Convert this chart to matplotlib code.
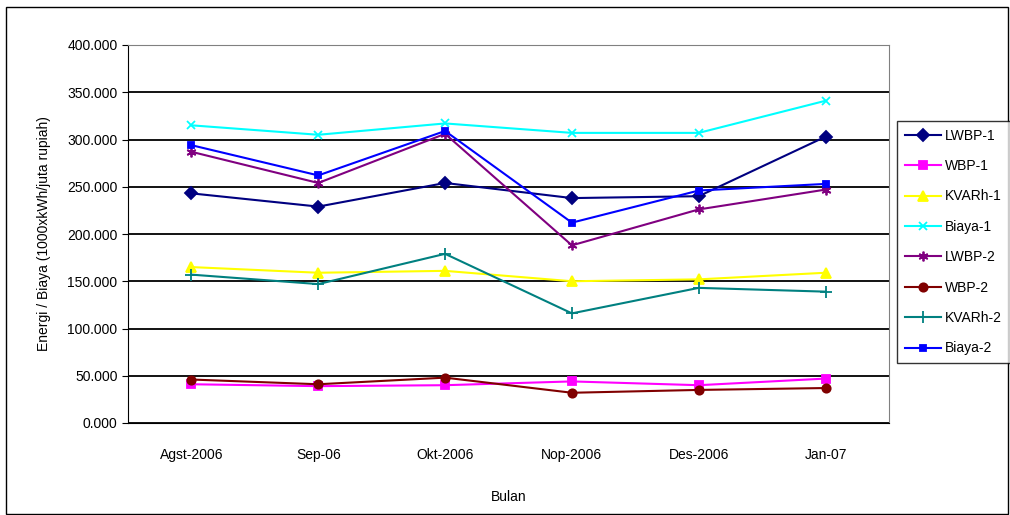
import matplotlib
matplotlib.use("Agg")
import matplotlib.pyplot as plt
from matplotlib.patches import Rectangle
from matplotlib.ticker import FuncFormatter

plt.rcParams["font.family"] = ["Liberation Sans", "DejaVu Sans"]

months = ["Agst-2006", "Sep-06", "Okt-2006", "Nop-2006", "Des-2006", "Jan-07"]

lwbp_1 = [243, 229, 254, 238, 240, 303]
wbp_1 = [41, 39, 40, 44, 40, 47]
kvarh_1 = [165, 159, 161, 150, 152, 159]
biaya_1 = [315, 305, 317, 307, 307, 341]
lwbp_2 = [287, 254, 306, 188, 226, 247]
wbp_2 = [46, 41, 48, 32, 35, 37]
kvarh_2 = [157, 147, 179, 116, 143, 139]
biaya_2 = [294, 262, 309, 212, 246, 253]

series = [
    ("LWBP-1", lwbp_1, "#000080", "D", 6),
    ("WBP-1", wbp_1, "#FF00FF", "s", 6),
    ("KVARh-1", kvarh_1, "#FFFF00", "^", 7),
    ("Biaya-1", biaya_1, "#00FFFF", "x", 6),
    ("LWBP-2", lwbp_2, "#800080", (6, 2, 0), 7),
    ("WBP-2", wbp_2, "#800000", "o", 6),
    ("KVARh-2", kvarh_2, "#008080", "+", 8),
    ("Biaya-2", biaya_2, "#0000FF", "s", 4),
]

fig = plt.figure(figsize=(10.10, 5.15), dpi=100)
ax = fig.add_axes([128 / 1010, 1 - 423 / 515, (889 - 128) / 1010, (423 - 45) / 515])

x = list(range(len(months)))
for name, vals, color, marker, ms in series:
    ax.plot(x, vals, color=color, marker=marker, markersize=ms, lw=1.5,
            markeredgewidth=1.3, label=name, clip_on=False, zorder=3)

ax.set_xlim(-0.5, len(months) - 0.5)
ax.set_ylim(0, 400)
ax.set_yticks(range(0, 401, 50))
ax.yaxis.set_major_formatter(FuncFormatter(lambda v, p: f"{v:.3f}"))
ax.set_xticks(x)
ax.set_xticklabels(months)
ax.tick_params(labelsize=10, length=4, color="black")
ax.tick_params(axis="x", length=0, pad=18)
ax.grid(True, axis="y", color="black", lw=1.3, zorder=1)
for s in ax.spines.values():
    s.set_color("#808080")
ax.spines["left"].set_color("black")
ax.spines["bottom"].set_color("black")

ax.set_xlabel("Bulan", fontsize=10, labelpad=20)
ax.set_ylabel("Energi / Biaya (1000xkWh/juta rupiah)", fontsize=10, labelpad=12)

leg = fig.legend(loc="upper left", bbox_to_anchor=(897 / 1010, 1 - 121 / 515),
                 frameon=True, fancybox=False, edgecolor="black", fontsize=10,
                 labelspacing=1.18, handlelength=2.6, borderpad=0.55,
                 handletextpad=0.3, borderaxespad=0)
leg.get_frame().set_linewidth(1.0)

fig.patches.append(Rectangle((6 / 1010, 0.002), 1 - 8 / 1010, 1 - 8 / 515,
                             transform=fig.transFigure, fill=False,
                             edgecolor="black", lw=1.0))

fig.savefig("out.png", dpi=100)
